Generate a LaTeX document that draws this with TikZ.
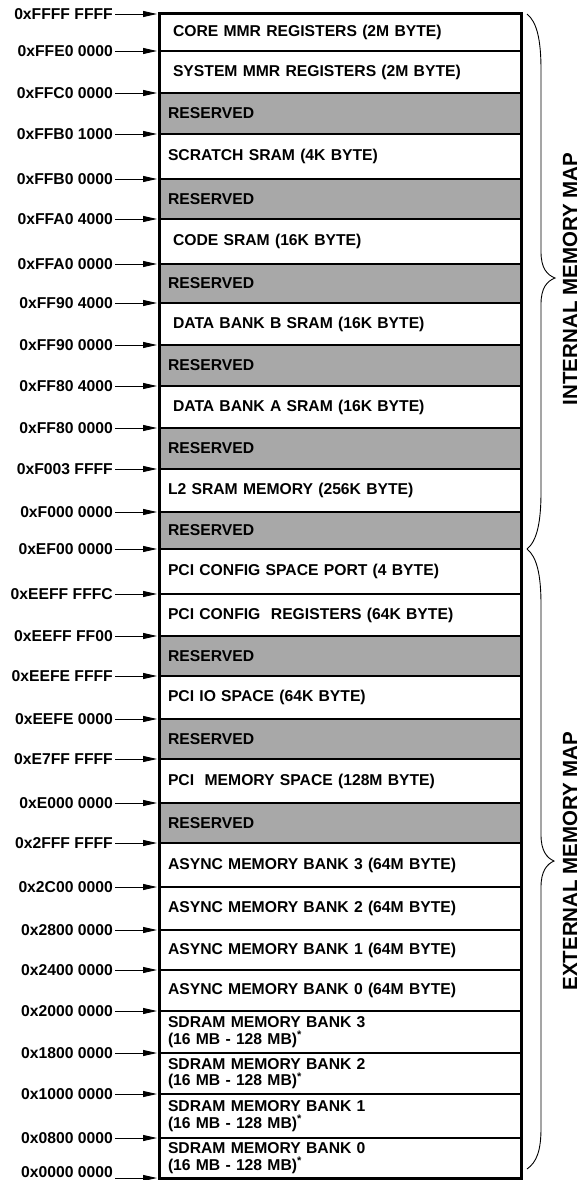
\documentclass[tikz,border=0pt]{standalone}
\usepackage{fontspec}
\setmainfont{Liberation Sans}
\usetikzlibrary{arrows.meta}
\definecolor{resgray}{RGB}{168,168,168}
\newcommand{\memfont}{\fontsize{15.7}{16.6}\selectfont\bfseries}
\newcommand{\sidefont}{\fontsize{20.5}{22}\selectfont\bfseries}

\begin{document}
\begin{tikzpicture}[x=1pt, y=-1pt,
    cell/.style={draw, line width=1.4pt, fill=white, minimum width=361pt, text width=345pt,
      inner xsep=8pt, inner ysep=0pt, align=left, font=\memfont},
    gap/.style={fill=resgray},
    ind/.style={text width=335pt, inner xsep=13pt},
    flat/.style={},
    addr/.style={anchor=east, inner sep=2pt, font=\memfont},
    ptr/.style={line width=0.9pt, -{Triangle[length=14pt, width=6pt]}},
    side/.style={rotate=90, font=\sidefont}]
  \useasboundingbox (0,0) rectangle (588,1180);

  % Memory blocks, top to bottom
  \foreach \ya/\yb/\kind/\txt [count=\i] in {
      14/51/ind/{CORE MMR REGISTERS (2M BYTE)},
      51/93/ind/{SYSTEM MMR REGISTERS (2M BYTE)},
      93/134/gap/{RESERVED},
      134/179/flat/{SCRATCH SRAM (4K BYTE)},
      179/219/gap/{RESERVED},
      219/264/ind/{CODE SRAM (16K BYTE)},
      264/303/gap/{RESERVED},
      303/345/ind/{DATA BANK B SRAM (16K BYTE)},
      345/386/gap/{RESERVED},
      386/428/ind/{DATA BANK A SRAM (16K BYTE)},
      428/469/gap/{RESERVED},
      469/512/flat/{L2 SRAM MEMORY (256K BYTE)},
      512/549/gap/{RESERVED},
      549/594/flat/{PCI CONFIG SPACE PORT (4 BYTE)},
      594/636/flat/{PCI CONFIG\ \ REGISTERS (64K BYTE)},
      636/676/gap/{RESERVED},
      676/719/flat/{PCI IO SPACE (64K BYTE)},
      719/759/gap/{RESERVED},
      759/803/flat/{PCI\ \ MEMORY SPACE (128M BYTE)},
      803/843/gap/{RESERVED},
      843/887/flat/{ASYNC MEMORY BANK 3 (64M BYTE)},
      887/930/flat/{ASYNC MEMORY BANK 2 (64M BYTE)},
      930/970/flat/{ASYNC MEMORY BANK 1 (64M BYTE)},
      970/1011/flat/{ASYNC MEMORY BANK 0 (64M BYTE)},
      1011/1053/flat/{SDRAM MEMORY BANK 3\\(16 MB - 128 MB)\textsuperscript{*}},
      1053/1094/flat/{SDRAM MEMORY BANK 2\\(16 MB - 128 MB)\textsuperscript{*}},
      1094/1138/flat/{SDRAM MEMORY BANK 1\\(16 MB - 128 MB)\textsuperscript{*}},
      1138/1178/flat/{SDRAM MEMORY BANK 0\\(16 MB - 128 MB)\textsuperscript{*}}}
    \node[cell, \kind, minimum height={\yb-\ya}] (r\i) at (340.5, {(\ya+\yb)/2}) {\txt};
  \draw[line width=2pt] (r1.north west) rectangle (r28.south east);

  % Addresses with pointers (last one lifted to stay on the page)
  \foreach \y/\addr [count=\i] in {
      14/0xFFFF FFFF, 51/0xFFE0 0000, 93/0xFFC0 0000, 134/0xFFB0 1000,
      179/0xFFB0 0000, 219/0xFFA0 4000, 264/0xFFA0 0000, 303/0xFF90 4000,
      345/0xFF90 0000, 386/0xFF80 4000, 428/0xFF80 0000, 469/0xF003 FFFF,
      512/0xF000 0000, 549/0xEF00 0000, 594/0xEEFF FFFC, 636/0xEEFF FF00,
      676/0xEEFE FFFF, 719/0xEEFE 0000, 759/0xE7FF FFFF, 803/0xE000 0000,
      843/0x2FFF FFFF, 887/0x2C00 0000, 930/0x2800 0000, 970/0x2400 0000,
      1011/0x2000 0000, 1053/0x1800 0000, 1094/0x1000 0000, 1138/0x0800 0000,
      1178/0x0000 0000}
    {\node[addr, yshift={(\i==29)*6}] (a\i) at (115,\y) {\addr};
     \coordinate (t\i) at (157,\y);
     \draw[ptr] (a\i.east |- t\i) -- (t\i);}

  % Braces
  \draw[line width=0.9pt] (527,14) .. controls (537,22) and (541,40) .. (541,70)
    -- (541,252) .. controls (541,268) and (547,275) .. (555,278)
    .. controls (547,281) and (541,288) .. (541,304)
    -- (541,492) .. controls (541,522) and (537,541) .. (527,549);
  \draw[line width=0.9pt] (527,549) .. controls (537,557) and (541,575) .. (541,605)
    -- (541,835) .. controls (541,851) and (547,858) .. (554,861)
    .. controls (547,864) and (541,871) .. (541,887)
    -- (541,1128) .. controls (541,1150) and (537,1162) .. (527,1169);
  \node[side] (intl) at (570,279) {INTERNAL MEMORY MAP};
  \node[side] (extl) at (570,861) {EXTERNAL MEMORY MAP};
\end{tikzpicture}
\end{document}
